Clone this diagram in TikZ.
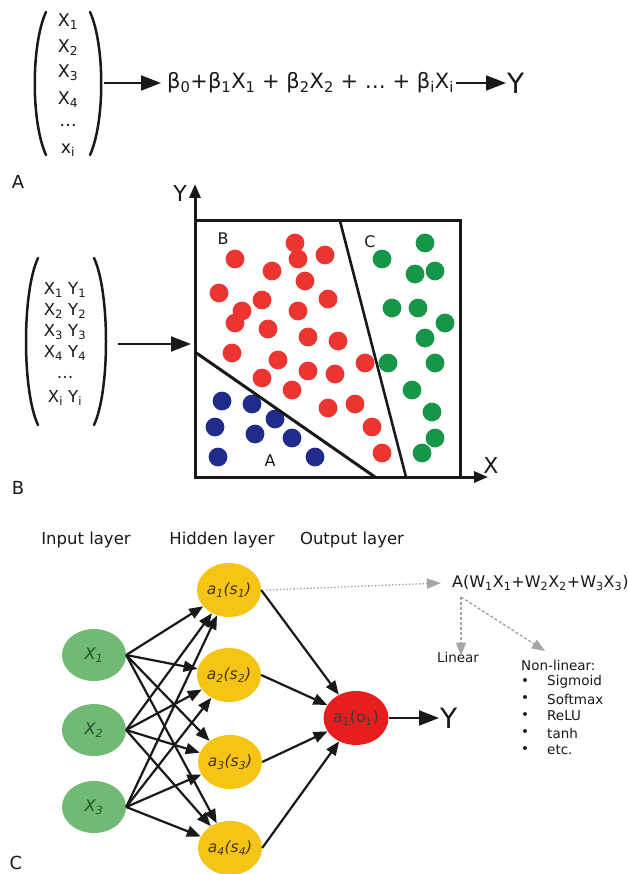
\documentclass[tikz,border=0pt]{standalone}
\usepackage{fontspec}
\setmainfont{DejaVu Sans}
\usetikzlibrary{arrows.meta,shapes.geometric}
\definecolor{nodeY}{RGB}{246,196,20}
\definecolor{nodeG}{RGB}{112,186,115}
\definecolor{nodeR}{RGB}{232,30,30}
\definecolor{dotR}{RGB}{236,52,48}
\definecolor{dotB}{RGB}{32,44,140}
\definecolor{dotG}{RGB}{22,150,72}
\definecolor{txt}{RGB}{25,25,25}
\definecolor{gtxt}{RGB}{40,80,40}
\definecolor{ytxt}{RGB}{70,55,20}
\definecolor{arrg}{RGB}{165,165,165}
\newcommand\sbx[1]{\textsubscript{#1}}
\newcommand\fsz[1]{\fontsize{#1}{#1}\selectfont}
\tikzset{
  paren/.style={line width=2.5pt, line cap=round, txt},
  txtnode/.style={inner sep=0pt, text=txt},
  bigarrow/.style={line width=2pt, txt, -{Triangle[length=20pt,width=15pt]}},
  axisarrow/.style={line width=3pt, txt, -{Triangle[length=14pt,width=11pt]}},
  edgearrow/.style={line width=2.2pt, txt, -{Triangle[length=14pt,width=11pt]}},
  dotarrow/.style={line width=1.4pt, arrg, dotted, -{Triangle[length=14pt,width=10pt]}},
  dasharrow/.style={line width=1.4pt, arrg, dashed, dash pattern=on 3pt off 2pt, -{Triangle[length=13pt,width=10pt]}},
  inpnode/.style={ellipse, fill=nodeG, minimum width=64pt, minimum height=52pt, inner sep=0pt, text=gtxt, font=\fsz{16}\itshape},
  hidnode/.style={ellipse, fill=nodeY, minimum width=64pt, minimum height=54pt, inner sep=0pt, text=ytxt, font=\fsz{15.5}\itshape},
  outnode/.style={ellipse, fill=nodeR, minimum width=62pt, minimum height=54pt, inner sep=0pt, text=txt!85, font=\fsz{15.5}},
}
\begin{document}
\begin{tikzpicture}[x=1pt,y=-1pt]
\useasboundingbox (0,0) rectangle (627,874);
\fill[white] (0,0) rectangle (627,874);

% ---------------- Part A ----------------
\draw[paren] (46,12) .. controls (31,45) and (31,122) .. (46,155);
\draw[paren] (90,12) .. controls (105,45) and (105,122) .. (90,155);
\node[txtnode, font=\fsz{17.5}] (ma1) at (68,22) {X\sbx{1}};
\node[txtnode, font=\fsz{17.5}] (ma2) at (68,48) {X\sbx{2}};
\node[txtnode, font=\fsz{17.5}] (ma3) at (68,73) {X\sbx{3}};
\node[txtnode, font=\fsz{17.5}] (ma4) at (68,100) {X\sbx{4}};
\node[txtnode, font=\fsz{17.5}] (ma5) at (68,125) {…};
\node[txtnode, font=\fsz{17.5}] (ma6) at (68,150) {x\sbx{i}};
\coordinate (pa) at (104,83);
\node[txtnode, font=\fsz{21}, anchor=west] (fA) at (167,83)
  {β\sbx{0}+β\sbx{1}X\sbx{1} + β\sbx{2}X\sbx{2} + … + β\sbx{i}X\sbx{i}};
\node[txtnode, font=\fsz{28}, anchor=west] (yA) at (507,83) {Y};
\draw[bigarrow] (pa) -- ([xshift=-6pt]fA.west);
\draw[bigarrow] ([xshift=2pt]fA.east) -- ([xshift=-1pt]yA.west);
\node[txtnode, font=\fsz{18}] (labA) at (18,182) {A};

% ---------------- Part B ----------------
\draw[paren] (38,258) .. controls (22,292) and (22,391) .. (38,425);
\draw[paren] (94,258) .. controls (110,292) and (110,391) .. (94,425);
\node[txtnode, font=\fsz{16.5}] (mb1) at (65,290) {X\sbx{1} Y\sbx{1}};
\node[txtnode, font=\fsz{16.5}] (mb2) at (65,311) {X\sbx{2} Y\sbx{2}};
\node[txtnode, font=\fsz{16.5}] (mb3) at (65,332) {X\sbx{3} Y\sbx{3}};
\node[txtnode, font=\fsz{16.5}] (mb4) at (65,353) {X\sbx{4} Y\sbx{4}};
\node[txtnode, font=\fsz{16.5}] (mb5) at (65,377) {…};
\node[txtnode, font=\fsz{16.5}] (mb6) at (65,398) {X\sbx{i} Y\sbx{i}};
\coordinate (pb) at (118,344);
\coordinate (orig) at (195,477);
\coordinate (yend) at (195,184);
\coordinate (xend) at (488,477);
\coordinate (boxw) at (191,344);
\draw[bigarrow] (pb) -- (boxw);

% scatter points
\foreach \p in {(295,243),(298,259),(235,259),(272,271),(325,255),(305,281),(219,293),(262,300),(328,299),(242,311),(235,323),(298,311),(268,329),(308,337),(338,341),(232,353),(278,360),(308,371),(335,374),(365,363),(262,378),(292,390),(328,408),(355,404),(372,427),(382,453)}
  \fill[dotR] \p circle (9.4pt);
\foreach \p in {(222,401),(252,404),(275,419),(215,427),(255,434),(292,438),(218,457),(315,457)}
  \fill[dotB] \p circle (9.4pt);
\foreach \p in {(425,243),(382,259),(415,274),(435,271),(392,308),(418,308),(445,323),(425,338),(388,363),(435,363),(412,390),(432,412),(435,438),(422,453)}
  \fill[dotG] \p circle (9.4pt);

\draw[line width=3pt, txt] (195,221) rectangle (460,477);
\draw[line width=3pt, txt] (195,352) -- (375,477);
\draw[line width=2.6pt, txt] (340,221) -- (406,477);
\draw[axisarrow] (orig) -- (yend);
\draw[axisarrow] (orig) -- (xend);
\node[txtnode, font=\fsz{22}] (ylab) at (180,193) {Y};
\node[txtnode, font=\fsz{22}] (xlab) at (491,465) {X};
\node[txtnode, font=\fsz{16}] (regB) at (223,239) {B};
\node[txtnode, font=\fsz{16}] (regC) at (370,242) {C};
\node[txtnode, font=\fsz{16}] (regA) at (270,461) {A};
\node[txtnode, font=\fsz{18}] (labB) at (18,488) {B};

% ---------------- Part C ----------------
\node[txtnode, font=\fsz{16.5}] (tin) at (86,540) {Input layer};
\node[txtnode, font=\fsz{16.5}] (thid) at (222,540) {Hidden layer};
\node[txtnode, font=\fsz{16.5}] (tout) at (352,540) {Output layer};

\node[inpnode] (x1) at (94,655) {X\sbx{1}};
\node[inpnode] (x2) at (94,730) {X\sbx{2}};
\node[inpnode] (x3) at (94,807) {X\sbx{3}};
\node[hidnode] (h1) at (229,590) {a\sbx{1}(s\sbx{1})};
\node[hidnode] (h2) at (229,675) {a\sbx{2}(s\sbx{2})};
\node[hidnode] (h3) at (230,762) {a\sbx{3}(s\sbx{3})};
\node[hidnode] (h4) at (230,848) {a\sbx{4}(s\sbx{4})};
\node[outnode] (o1) at (356,718) {a\sbx{1}(o\sbx{1})};

\foreach \i in {1,2,3}
  \foreach \j in {1,2,3,4}
    \draw[edgearrow] (x\i.east) -- (h\j);
\foreach \j in {1,2,3,4}
  \draw[edgearrow] (h\j.east) -- (o1);

\node[txtnode, font=\fsz{28}, anchor=west] (yC) at (440,718) {Y};
\draw[bigarrow] (o1.east) -- ([xshift=-1pt]yC.west);

\node[txtnode, font=\fsz{16}, anchor=west] (fC) at (452,583)
  {A(W\sbx{1}X\sbx{1}+W\sbx{2}X\sbx{2}+W\sbx{3}X\sbx{3})};
\draw[dotarrow] ([xshift=5pt]h1.east) -- ([xshift=-11pt]fC.west);

\coordinate (fs) at (461,597);
\node[txtnode, font=\fsz{13.5}] (lin) at (458,657) {Linear};
\node[txtnode, font=\fsz{13.5}, anchor=west] (nonlin) at (521,665) {Non-linear:};
\draw[dasharrow] (fs) -- ([yshift=-4pt]lin.north -| fs);
\draw[dasharrow] (fs) -- (545,651);
\foreach \t/\y [count=\k] in {Sigmoid/682,Softmax/699,ReLU/716,tanh/733,etc./750}{
  \node[txtnode, font=\fsz{13.5}] (bul\k) at (525,\y) {•};
  \node[txtnode, font=\fsz{13.5}, anchor=west] (it\k) at (547,\y) {\t};
}
\node[txtnode, font=\fsz{18}] (labC) at (16,863) {C};
\end{tikzpicture}
\end{document}
